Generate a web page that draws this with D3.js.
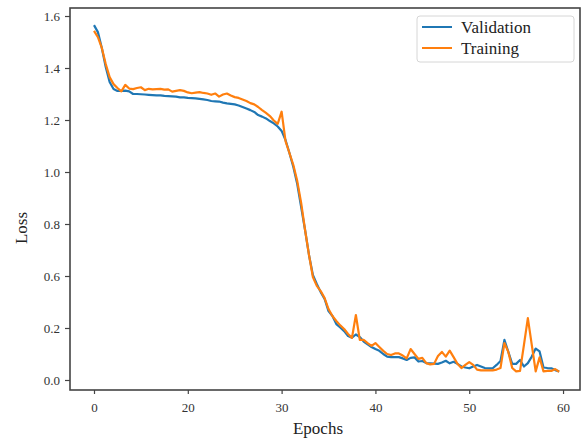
<!DOCTYPE html>
<html>
<head>
<meta charset="utf-8">
<script src="https://cdn.jsdelivr.net/npm/d3@7"></script>
<style>
  body { margin: 0; background: #fff; }
</style>
</head>
<body>
<div id="chart"></div>
<script>
const width = 582, height = 438;
const serif = "'Liberation Serif', 'DejaVu Serif', serif";

// half-epoch samples
const validation = [
  1.365, 1.338, 1.277, 1.204, 1.146, 1.119, 1.112, 1.112, 1.113, 1.110,
  1.100, 1.100, 1.099, 1.098, 1.097, 1.096, 1.095, 1.095, 1.093, 1.092,
  1.091, 1.090, 1.087, 1.087, 1.085, 1.084, 1.083, 1.081, 1.079, 1.077,
  1.073, 1.072, 1.071, 1.067, 1.064, 1.062, 1.060, 1.056, 1.050, 1.044,
  1.038, 1.031, 1.019, 1.013, 1.006, 0.996, 0.987, 0.975, 0.958, 0.923,
  0.873, 0.819, 0.754, 0.665, 0.577, 0.481, 0.404, 0.369, 0.338, 0.312,
  0.265, 0.246, 0.215, 0.202, 0.188, 0.169, 0.163, 0.175, 0.165, 0.148,
  0.137, 0.127, 0.119, 0.112, 0.100, 0.090, 0.088, 0.088, 0.088, 0.083,
  0.077, 0.085, 0.087, 0.071, 0.073, 0.065, 0.064, 0.063, 0.062, 0.067,
  0.074, 0.064, 0.070, 0.062, 0.052, 0.048, 0.045, 0.052, 0.058, 0.052,
  0.046, 0.045, 0.045, 0.058, 0.073, 0.154, 0.108, 0.062, 0.062, 0.077,
  0.052, 0.065, 0.090, 0.121, 0.110, 0.048, 0.046, 0.045, 0.038, 0.033
];

const training = [
  1.343, 1.319, 1.277, 1.215, 1.165, 1.138, 1.123, 1.110, 1.135, 1.121,
  1.119, 1.123, 1.126, 1.115, 1.120, 1.118, 1.119, 1.120, 1.117, 1.118,
  1.109, 1.112, 1.115, 1.112, 1.106, 1.103, 1.105, 1.107, 1.104, 1.102,
  1.097, 1.102, 1.090, 1.098, 1.102, 1.094, 1.088, 1.085, 1.079, 1.073,
  1.065, 1.060, 1.050, 1.038, 1.027, 1.015, 0.998, 0.985, 1.032, 0.919,
  0.873, 0.827, 0.765, 0.681, 0.577, 0.481, 0.396, 0.362, 0.342, 0.315,
  0.273, 0.246, 0.227, 0.210, 0.196, 0.177, 0.162, 0.250, 0.154, 0.154,
  0.142, 0.131, 0.142, 0.127, 0.112, 0.100, 0.096, 0.102, 0.102, 0.094,
  0.083, 0.119, 0.100, 0.081, 0.085, 0.065, 0.060, 0.062, 0.092, 0.108,
  0.090, 0.113, 0.088, 0.062, 0.046, 0.058, 0.069, 0.058, 0.040, 0.037,
  0.037, 0.037, 0.037, 0.040, 0.046, 0.142, 0.108, 0.046, 0.033, 0.035,
  0.135, 0.238, 0.135, 0.033, 0.087, 0.033, 0.035, 0.035, 0.042, 0.031
];

const xTickValues = [0, 12, 24, 36, 48, 60];
const xTickLabels = ["0", "20", "30", "40", "50", "60"];
const yTickValues = [0, 0.2, 0.4, 0.6, 0.8, 1.0, 1.2, 1.4];
const yTickLabels = ["0.0", "0.2", "0.6", "0.8", "1.0", "1.2", "1.4", "1.6"];

const seriesNames = ["Validation", "Training"];
const seriesColors = ["#1f77b4", "#ff7f0e"];

const plot = { left: 70, right: 580, top: 8, bottom: 390 };

const svg = d3.select("#chart")
  .append("svg")
  .attr("width", width)
  .attr("height", height)
  .style("font-family", serif);

const x = d3.scaleLinear()
  .domain([-3.07, 62.17])
  .range([plot.left, plot.right]);

const y = d3.scaleLinear()
  .domain([-0.0385, 1.4308])
  .range([plot.bottom, plot.top]);

// x axis
const xAxis = svg.append("g")
  .attr("transform", "translate(0," + plot.bottom + ")")
  .call(d3.axisBottom(x)
    .tickValues(xTickValues)
    .tickFormat((d, i) => xTickLabels[i])
    .tickSize(4)
    .tickPadding(9));

// y axis
const yAxis = svg.append("g")
  .attr("transform", "translate(" + plot.left + ",0)")
  .call(d3.axisLeft(y)
    .tickValues(yTickValues)
    .tickFormat((d, i) => yTickLabels[i])
    .tickSize(5)
    .tickPadding(5));

[xAxis, yAxis].forEach(g => {
  g.attr("font-family", serif).attr("font-size", 13);
  g.select(".domain").remove();
  g.selectAll(".tick line").attr("stroke", "#444").attr("stroke-width", 1.2);
  g.selectAll(".tick text").attr("fill", "#333");
});

// frame
svg.append("rect")
  .attr("x", plot.left)
  .attr("y", plot.top)
  .attr("width", plot.right - plot.left)
  .attr("height", plot.bottom - plot.top)
  .attr("fill", "none")
  .attr("stroke", "#444")
  .attr("stroke-width", 1.6);

// lines
const line = d3.line()
  .x((d, i) => x(i * 0.5))
  .y(d => y(d));

[validation, training].forEach((data, i) => {
  svg.append("path")
    .datum(data)
    .attr("fill", "none")
    .attr("stroke", seriesColors[i])
    .attr("stroke-width", 2.2)
    .attr("stroke-linejoin", "round")
    .attr("d", line);
});

// axis titles
svg.append("text")
  .attr("x", (plot.left + plot.right) / 2 - 7)
  .attr("y", 434)
  .attr("text-anchor", "middle")
  .attr("fill", "#222")
  .style("font-size", "17px")
  .text("Epochs");

svg.append("text")
  .attr("transform", "translate(27," + 228 + ") rotate(-90)")
  .attr("text-anchor", "middle")
  .attr("fill", "#222")
  .style("font-size", "17px")
  .text("Loss");

// legend
const legend = svg.append("g");
legend.append("rect")
  .attr("x", 417)
  .attr("y", 16)
  .attr("width", 157)
  .attr("height", 46)
  .attr("rx", 3)
  .attr("fill", "#fff")
  .attr("stroke", "#d6d6d6")
  .attr("stroke-width", 1);

seriesNames.forEach((name, i) => {
  const ly = 27 + i * 21;
  legend.append("line")
    .attr("x1", 422).attr("x2", 452)
    .attr("y1", ly).attr("y2", ly)
    .attr("stroke", seriesColors[i])
    .attr("stroke-width", 2);
  legend.append("text")
    .attr("x", 461)
    .attr("y", ly + 6)
    .attr("fill", "#222")
    .style("font-size", "17px")
    .text(name);
});
</script>
</body>
</html>
